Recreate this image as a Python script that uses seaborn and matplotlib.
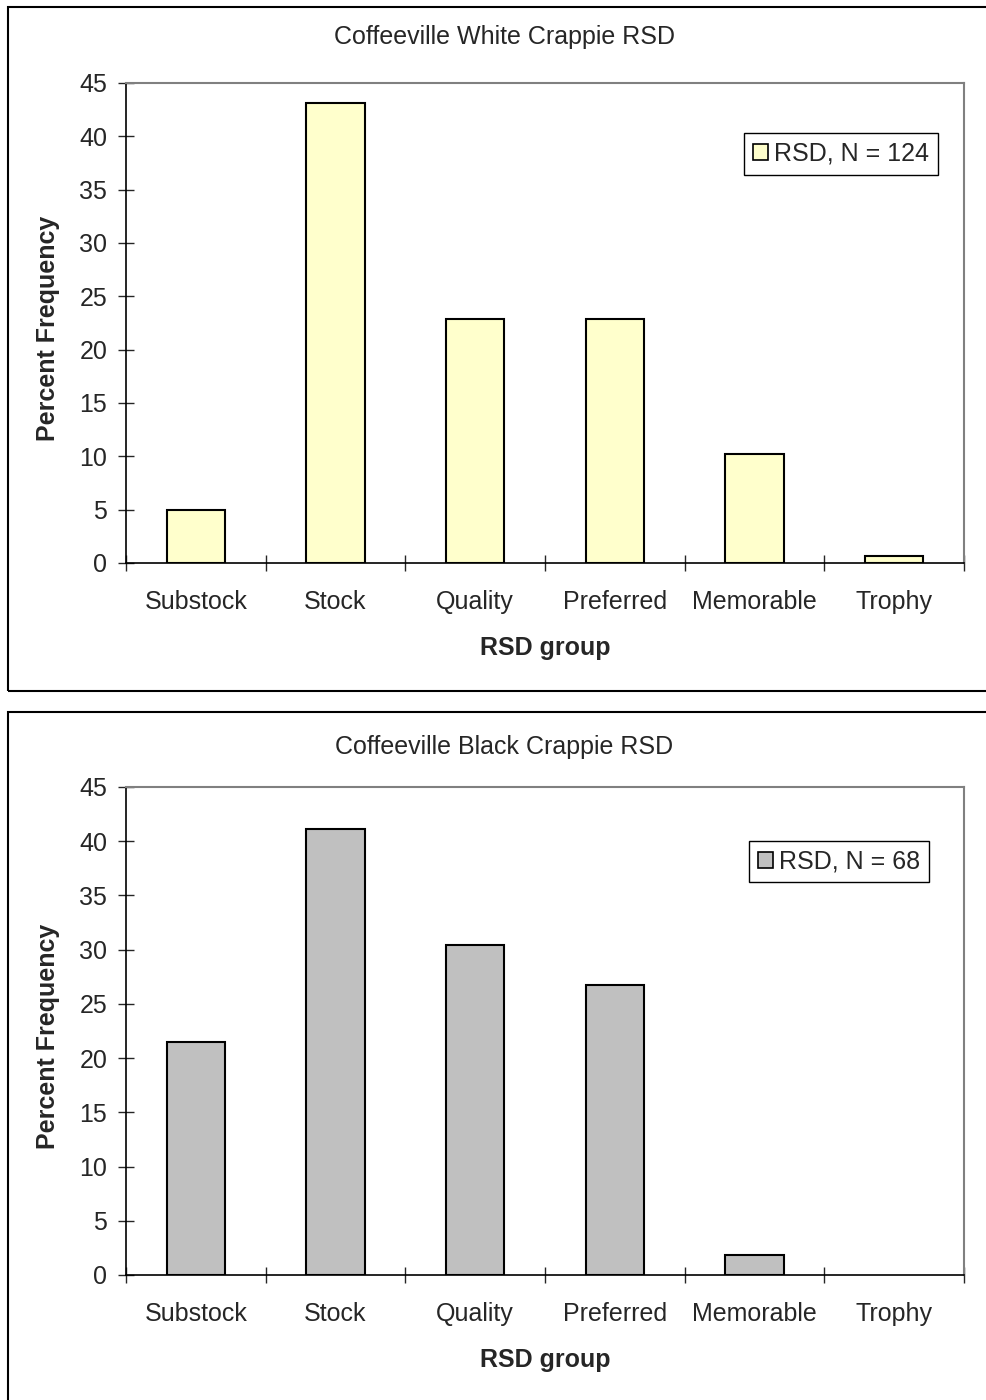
import matplotlib
matplotlib.use("Agg")
import matplotlib.pyplot as plt
import seaborn as sns
import pandas as pd
from matplotlib.patches import Rectangle, Patch
from matplotlib.ticker import FixedLocator

categories = ["Substock", "Stock", "Quality", "Preferred", "Memorable", "Trophy"]
white_values = [5.0, 43.1, 22.9, 22.9, 10.2, 0.7]
black_values = [21.5, 41.1, 30.4, 26.7, 1.8, 0.0]
titles = ["Coffeeville White Crappie RSD", "Coffeeville Black Crappie RSD"]
legend_labels = ["RSD, N = 124", "RSD, N = 68"]
bar_colors = ["#FFFFCC", "#C0C0C0"]
y_ticks = [0, 5, 10, 15, 20, 25, 30, 35, 40, 45]

sns.set_style("white")
plt.rcParams["font.family"] = ["Liberation Sans", "DejaVu Sans"]

W, H = 986, 1400
fig = plt.figure(figsize=(W / 100, H / 100), dpi=100)

def fx(px):
    return px / W

def fy(py):
    return 1 - py / H

panels = [
    dict(vals=white_values, frame=(8, 7, 691), ax=(126, 83, 964, 563),
         title_y=37, xlabel_y=648, leg=(741, 133, 941, 175)),
    dict(vals=black_values, frame=(8, 712, 1420), ax=(126, 787, 964, 1275),
         title_y=747, xlabel_y=1360, leg=(746, 843, 932, 880)),
]

for i, p in enumerate(panels):
    l, t, b = p["frame"]
    fig.patches.append(Rectangle((fx(l), fy(b)), fx(1200 - l), (b - t) / H,
                                 transform=fig.transFigure, fill=False,
                                 edgecolor="black", linewidth=1.5, zorder=0))
    x0, y0, x1, y1 = p["ax"]
    ax = fig.add_axes([fx(x0), fy(y1), fx(x1 - x0), (y1 - y0) / H])
    df = pd.DataFrame({"group": categories, "pct": p["vals"]})
    sns.barplot(data=df, x="group", y="pct", color=bar_colors[i],
                edgecolor="black", linewidth=1.5, width=0.417,
                saturation=1, ax=ax)
    for patch in ax.patches:
        patch.set_facecolor(bar_colors[i])
        if patch.get_height() == 0:
            patch.set_linewidth(0)
    ax.set_xlim(-0.5, len(categories) - 0.5)
    ax.set_ylim(0, 45)
    ax.set_yticks(y_ticks)
    ax.tick_params(axis="y", direction="inout", length=12, width=1,
                   pad=7.5, labelsize=18, left=True)
    ax.tick_params(axis="x", which="major", length=0, pad=19.5, labelsize=18)
    ax.xaxis.set_minor_locator(FixedLocator([k - 0.5 for k in range(len(categories) + 1)]))
    ax.tick_params(axis="x", which="minor", direction="inout", length=11.5,
                   width=1, bottom=True)
    ax.set_xlabel("")
    ax.set_ylabel("")
    for s in ["left", "bottom"]:
        ax.spines[s].set_color("black")
        ax.spines[s].set_linewidth(1.2)
    for s in ["top", "right"]:
        ax.spines[s].set_color("#808080")
        ax.spines[s].set_linewidth(1.5)
        ax.spines[s].set_visible(True)
    ax.set_facecolor("white")
    fig.text(fx(504), fy(p["title_y"]), titles[i], ha="center", va="center",
             fontsize=18)
    fig.text(fx(48), fy((y0 + y1) / 2 + 5), "Percent Frequency", rotation=90,
             ha="center", va="center", fontsize=18, fontweight="bold")
    fig.text(fx((x0 + x1) / 2), fy(p["xlabel_y"]), "RSD group", ha="center",
             va="center", fontsize=18, fontweight="bold")
    lx0, ly0, lx1, ly1 = p["leg"]
    handle = Patch(facecolor=bar_colors[i], edgecolor="black", linewidth=1.2)
    leg = ax.legend([handle], [legend_labels[i]], loc="center",
                    bbox_to_anchor=(fx((lx0 + lx1) / 2), fy((ly0 + ly1) / 2)),
                    bbox_transform=fig.transFigure, fontsize=18, frameon=True,
                    fancybox=False, edgecolor="black", framealpha=1,
                    handlelength=0.6, handleheight=0.6, handletextpad=0.25,
                    borderpad=0.35, borderaxespad=0)
    leg.get_frame().set_linewidth(1.0)

fig.savefig("out.png", dpi=100)
